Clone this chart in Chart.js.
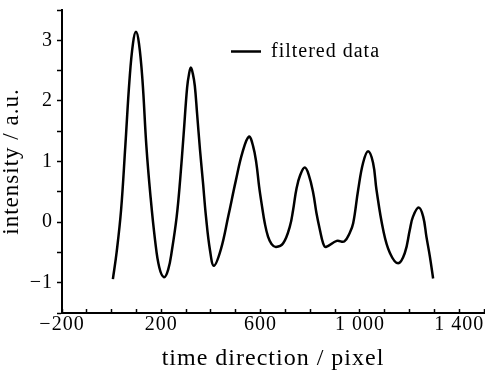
<!DOCTYPE html>
<html>
<head>
<meta charset="utf-8">
<script src="https://cdn.jsdelivr.net/npm/chart.js@4"></script>
<style>
  html, body { margin: 0; padding: 0; background: #fff; }
  #wrap { width: 485px; height: 376px; }
</style>
</head>
<body>
<div id="wrap"><canvas id="grafico" width="485" height="376"></canvas></div>
<script>
// dados
const seriesName = 'filtered data';
const xValues = [5, 20, 38, 55, 72, 86, 98, 110, 124, 140, 156, 175, 192, 211, 228, 243, 262, 276, 290, 304, 312, 319, 327, 335, 344, 356, 368, 380, 396, 412, 440, 470, 500, 527, 553, 570, 583, 594, 605, 617, 630, 644, 662, 691, 718, 731, 745, 760, 778, 794, 812, 825, 839, 852, 863, 907, 937, 959, 973, 993, 1013, 1033, 1053, 1067, 1094, 1121, 1154, 1181, 1201, 1214, 1237, 1255, 1268, 1282, 1295];
const yValues = [-0.94, -0.50, 0.20, 1.25, 2.35, 2.95, 3.14, 2.95, 2.35, 1.25, 0.45, -0.30, -0.75, -0.91, -0.78, -0.46, 0.09, 0.70, 1.45, 2.22, 2.45, 2.55, 2.45, 2.25, 1.80, 1.19, 0.65, 0.09, -0.46, -0.72, -0.45, 0.10, 0.68, 1.15, 1.41, 1.25, 0.97, 0.59, 0.28, -0.02, -0.24, -0.36, -0.41, -0.35, -0.07, 0.20, 0.56, 0.78, 0.90, 0.78, 0.48, 0.15, -0.13, -0.35, -0.41, -0.31, -0.32, -0.18, -0.02, 0.53, 0.98, 1.17, 0.98, 0.53, -0.13, -0.51, -0.68, -0.51, -0.13, 0.09, 0.24, 0.09, -0.24, -0.57, -0.93];

const xLabelValues = [-200, 200, 600, 1000, 1400];
const xLabelTexts = ['\u2212200', '200', '600', '1 000', '1 400'];
const yLabelValues = [-1, 0, 1, 2, 3];
const yLabelTexts = ['\u22121', '0', '1', '2', '3'];

const SERIF = '"Liberation Serif", "Times New Roman", serif';

// legenda dentro da área do gráfico + espaçamento das letras
const legendaDentro = {
    id: 'legendaDentro',
    beforeUpdate(chart) {
        chart.ctx.letterSpacing = '1px';
        const lg = chart.legend;
        if (lg && !lg._semAltura) {
            const fitOriginal = lg.fit.bind(lg);
            lg.fit = function () { fitOriginal(); this.height = 0; };
            lg._semAltura = true;
        }
    },
    afterLayout(chart) {
        const lg = chart.legend;
        if (!lg) return;
        lg.left = 231;
        lg.right = 420;
        lg.top = 41.5;
        lg.bottom = 41.5 + 30;
        lg.adjustHitBoxes();
    },
    beforeDraw(chart) {
        chart.ctx.letterSpacing = '1px';
    }
};

function rotuloX(v) {
    const i = xLabelValues.indexOf(v);
    return i >= 0 ? xLabelTexts[i] : '';
}
function rotuloY(v) {
    const i = yLabelValues.indexOf(v);
    return i >= 0 ? yLabelTexts[i] : '';
}

new Chart(document.getElementById('grafico'), {
    type: 'line',
    data: {
        datasets: [{
            label: seriesName,
            data: xValues.map((x, i) => ({ x: x, y: yValues[i] })),
            borderColor: '#000',
            backgroundColor: '#000',
            borderWidth: 2.5,
            pointRadius: 0,
            tension: 0.4,
            fill: false
        }]
    },
    options: {
        responsive: false,
        animation: false,
        layout: { padding: { top: 10, right: 1, left: 0, bottom: 0 } },
        plugins: {
            tooltip: { enabled: false },
            legend: {
                position: 'top',
                align: 'start',
                labels: {
                    color: '#000',
                    font: { family: SERIF, size: 20 },
                    usePointStyle: true,
                    pointStyle: 'line',
                    pointStyleWidth: 30,
                    padding: 0
                }
            }
        },
        scales: {
            x: {
                type: 'linear',
                position: 'bottom',
                min: -200,
                max: 1500,
                ticks: {
                    stepSize: 100,
                    autoSkip: false,
                    maxRotation: 0,
                    maxTicksLimit: 100,
                    padding: 4,
                    color: '#000',
                    font: { family: SERIF, size: 20 },
                    callback: rotuloX
                },
                grid: { drawOnChartArea: false, drawTicks: true, tickLength: -4, tickColor: '#000', tickWidth: 1.5 },
                border: { display: true, color: '#000', width: 2 },
                title: {
                    display: true,
                    text: 'time direction / pixel',
                    color: '#000',
                    font: { family: SERIF, size: 24 },
                    padding: { top: 0, bottom: 3 }
                },
                afterFit(s) { s.height = 63; s.paddingLeft = 0; s.paddingRight = 0; }
            },
            y: {
                min: -1.5,
                max: 3.5,
                ticks: {
                    stepSize: 0.5,
                    autoSkip: false,
                    padding: 4,
                    color: '#000',
                    font: { family: SERIF, size: 20 },
                    callback: rotuloY
                },
                grid: { drawOnChartArea: false, drawTicks: true, tickLength: 5, tickColor: '#000', tickWidth: 1.5 },
                border: { display: true, color: '#000', width: 2 },
                title: {
                    display: true,
                    text: 'intensity / a.u.',
                    color: '#000',
                    font: { family: SERIF, size: 23 },
                    padding: { top: -2, bottom: 0 }
                },
                afterFit(s) { s.width = 62; s.paddingTop = 0; s.paddingBottom = 0; }
            }
        }
    },
    plugins: [legendaDentro]
});
</script>
</body>
</html>
